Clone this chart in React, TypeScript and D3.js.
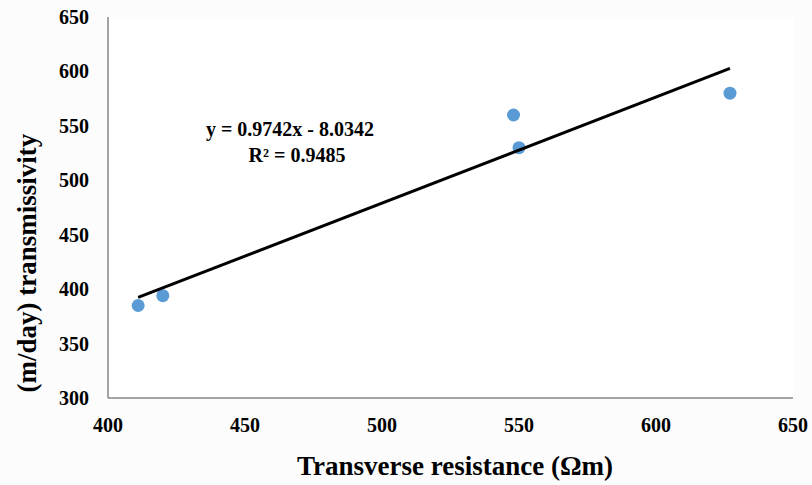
import React from "react";
import * as d3 from "d3";

const xValues = [411, 420, 548, 550, 627];
const yValues = [385, 394, 560, 530, 580];
const xTicks = [400, 450, 500, 550, 600, 650];
const yTicks = [300, 350, 400, 450, 500, 550, 600, 650];
const slope = 0.9742;
const intercept = -8.0342;
const eqText = "y = 0.9742x - 8.0342";
const r2Text = "R² = 0.9485";

export default function App() {
  const W = 812, H = 485;
  const x = d3.scaleLinear().domain([400, 650]).range([108, 793]);
  const y = d3.scaleLinear().domain([300, 650]).range([398, 17]);
  const xmin = d3.min(xValues)!, xmax = d3.max(xValues)!;
  const font = "'Liberation Serif', 'Times New Roman', serif";
  return (
    <svg width={W} height={H} style={{ position: "fixed", left: 0, top: 0, background: "#fcfcfc" }}>
      <rect x={x(400)} y={y(650)} width={x(650) - x(400)} height={y(300) - y(650)} fill="#ffffff" />
      <line x1={x(400)} x2={x(400)} y1={y(650)} y2={y(300)} stroke="#868686" strokeWidth={1.5} />
      <line x1={x(400)} x2={x(650)} y1={y(300)} y2={y(300)} stroke="#868686" strokeWidth={1.5} />
      {yTicks.map((t) => (
        <text key={"y" + t} x={89} y={y(t)} textAnchor="end" dominantBaseline="central"
          fontFamily={font} fontWeight="bold" fontSize={20} fill="#000">{t}</text>
      ))}
      {xTicks.map((t) => (
        <text key={"x" + t} x={x(t)} y={425} textAnchor="middle" dominantBaseline="central"
          fontFamily={font} fontWeight="bold" fontSize={20} fill="#000">{t}</text>
      ))}
      {xValues.map((v, i) => (
        <circle key={i} cx={x(v)} cy={y(yValues[i])} r={6.5} fill="#5B9BD5" />
      ))}
      <line x1={x(xmin)} y1={y(slope * xmin + intercept)} x2={x(xmax)} y2={y(slope * xmax + intercept)}
        stroke="#000" strokeWidth={3} />
      <text x={290} y={129} textAnchor="middle" dominantBaseline="central" fontFamily={font}
        fontWeight="bold" fontSize={20}>{eqText}</text>
      <text x={297} y={155} textAnchor="middle" dominantBaseline="central" fontFamily={font}
        fontWeight="bold" fontSize={20}>{r2Text}</text>
      <text x={455} y={466} textAnchor="middle" dominantBaseline="central" fontFamily={font}
        fontWeight="bold" fontSize={27}>Transverse resistance (Ωm)</text>
      <text transform={`translate(27,263) rotate(-90)`} textAnchor="middle" dominantBaseline="central"
        fontFamily={font} fontWeight="bold" fontSize={27}>(m/day) transmissivity</text>
    </svg>
  );
}
